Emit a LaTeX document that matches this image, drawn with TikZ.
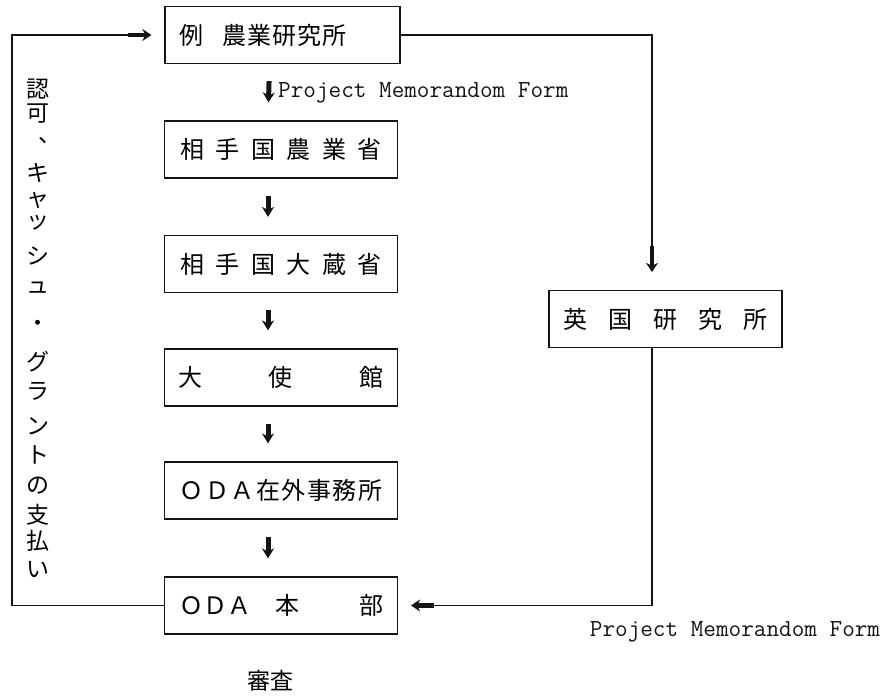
\documentclass[tikz,border=0pt]{standalone}
\usepackage{fontspec}
\setmainfont{Noto Sans CJK JP}
\usepackage{xcolor}
\definecolor{inkblack}{RGB}{20, 20, 20}
\usepackage{tikz}
\usetikzlibrary{arrows.meta, positioning, calc}

\begin{document}
\begin{tikzpicture}[x=1pt, y=-1pt, >=Stealth,
    stagebox/.style={draw=inkblack, line width=1.2pt, minimum width=233pt, minimum height=57pt, inner sep=0pt, font=\fontsize{24}{26}\selectfont},
    flowarrow/.style={-{Stealth[length=10pt,width=12pt]}, line width=5pt, inkblack, shorten <=17pt, shorten >=18pt},
    loopline/.style={line width=1.2pt, inkblack},
    stubarrow/.style={-{Stealth[length=9pt,width=12pt]}, line width=4.5pt, inkblack},
    memo/.style={font=\ttfamily\fontsize{24.5}{26}\selectfont, inner sep=0pt, inkblack}]
    \useasboundingbox (0,0) rectangle (896,700);

    \node[stagebox, minimum width=235pt] (lab) at (282.5,35) {\makebox[206pt][l]{例\hspace{19pt}農\kern1pt 業\kern1pt 研\kern1pt 究\kern1pt 所}};
    \node[stagebox] (agri) at (281,149.5) {\makebox[202pt][s]{相\hfill 手\hfill 国\hfill 農\hfill 業\hfill 省}};
    \node[stagebox] (fin) at (281,264) {\makebox[202pt][s]{相\hfill 手\hfill 国\hfill 大\hfill 蔵\hfill 省}};
    \node[stagebox] (emb) at (281,377.5) {\makebox[205pt][s]{大\hfill 使\hfill 館}};
    \node[stagebox] (odaf) at (281,490.5) {\makebox[203pt][s]{Ｏ\hfill Ｄ\hfill Ａ\hfill 在\hfill 外\hfill 事\hfill 務\hfill 所}};
    \node[stagebox] (odah) at (281,605.5) {\makebox[204pt][s]{ＯＤＡ　本\hfill 部}};
    \node[stagebox] (uk) at (665.5,319) {\makebox[205pt][s]{英\hfill 国\hfill 研\hfill 究\hfill 所}};

    \foreach \a/\b in {lab/agri, agri/fin, fin/emb, emb/odaf, odaf/odah}
        \draw[flowarrow] ([xshift=-13pt]\a.south) -- ([xshift=-13pt]\b.north);
    \node[memo, anchor=west] (memoA) at (278,93) {Project Memorandom Form};

    \coordinate (lcorner) at (12,35);
    \coordinate (lstub) at (128,35);
    \draw[loopline] (odah.west) -| (lcorner) -- (lstub);
    \draw[stubarrow, shorten >=13pt] (lstub) -- (lab.west);

    \coordinate (rcorner) at (652,35);
    \coordinate (rstub) at (652,246);
    \draw[loopline] (lab.east) -- (rcorner) -- (rstub);
    \draw[stubarrow, shorten >=18pt] (rstub) -- (rstub |- uk.north);

    \coordinate (bcorner) at (652,605.5);
    \coordinate (bstub) at (434,605.5);
    \draw[loopline] (rstub |- uk.south) -- (bcorner) -- (bstub);
    \draw[stubarrow, shorten >=13pt] (bstub) -- (odah.east);
    \node[memo] (memoB) at (735,632) {Project Memorandom Form};

    \foreach \c/\y/\dx [count=\i] in {認/89/0, 可/114/0, 、/141/12, キ/173/0, ャ/200/0, ッ/223/0, シ/256/0, ュ/288/0, ・/326/0, グ/362/0, ラ/391/0, ン/426/0, ト/455/0, の/486/0, 支/515/0, 払/541/0, い/570/0}
        \node[font=\fontsize{23}{25}\selectfont, inner sep=0pt] (v\i) at (38+\dx,\y) {\c};

    \node[font=\fontsize{23}{25}\selectfont] (review) at (270,681) {審査};
\end{tikzpicture}
\end{document}
